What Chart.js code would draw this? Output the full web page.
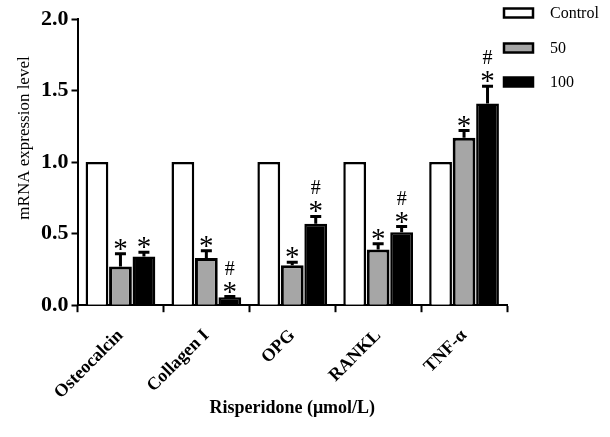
<!DOCTYPE html>
<html>
<head>
<meta charset="utf-8">
<script src="https://cdn.jsdelivr.net/npm/chart.js@4.4.1/dist/chart.umd.min.js"></script>
<style>
  html, body { margin: 0; padding: 0; background: #fff; }
  #wrap { width: 610px; height: 437px; }
</style>
</head>
<body>
<div id="wrap"><canvas id="mrna-chart"></canvas></div>
<script>
const genes = ['Osteocalcin', 'Collagen I', 'OPG', 'RANKL', 'TNF-\u03b1'];

const controlVals = [1.0, 1.0, 1.0, 1.0, 1.0];
const dose50Vals = [0.27, 0.33, 0.28, 0.39, 1.17];
const dose100Vals = [0.34, 0.055, 0.57, 0.51, 1.41];

const dose50Err = [0.09, 0.05, 0.02, 0.04, 0.05];
const dose100Err = [0.03, 0.005, 0.05, 0.04, 0.12];

const dose50Marks = ['*', '*', '*', '*', '*'];
const dose100Marks = ['*', '#*', '#*', '#*', '#*'];

const yTicks = [0, 0.5, 1.0, 1.5, 2.0];

const serif = 'Liberation Serif';

// error bars (upward only) + significance marks
const errorBarPlugin = {
  id: 'errorBars',
  afterDatasetsDraw(chart) {
    const ctx = chart.ctx;
    const yScale = chart.scales.y;
    chart.data.datasets.forEach((ds, di) => {
      if (!ds.err) return;
      const meta = chart.getDatasetMeta(di);
      meta.data.forEach((bar, i) => {
        const top = yScale.getPixelForValue(ds.data[i] + ds.err[i]);
        ctx.save();
        ctx.strokeStyle = '#000';
        ctx.lineWidth = 3;
        ctx.beginPath();
        ctx.moveTo(bar.x, bar.y);
        ctx.lineTo(bar.x, top);
        ctx.moveTo(bar.x - 5.5, top);
        ctx.lineTo(bar.x + 5.5, top);
        ctx.stroke();
        const marks = ds.marks ? ds.marks[i] : '';
        ctx.fillStyle = '#000';
        ctx.textAlign = 'center';
        ctx.textBaseline = 'alphabetic';
        let y = top - 10; // centre of next mark
        for (let k = marks.length - 1; k >= 0; k--) {
          if (marks[k] === '*') {
            ctx.font = '29px "' + serif + '"';
            ctx.fillText('*', bar.x, y + 14);
            y -= 19;
          } else {
            ctx.font = '20px "' + serif + '"';
            ctx.fillText('#', bar.x, y + 7);
            y -= 19;
          }
        }
        ctx.restore();
      });
    });
  }
};

// legend at top right + rotated y title
const legendPlugin = {
  id: 'sideLegend',
  afterDraw(chart) {
    const ctx = chart.ctx;
    const rows = [13, 48, 82];
    ctx.save();
    chart.data.datasets.forEach((ds, i) => {
      const y = rows[i];
      ctx.fillStyle = ds.backgroundColor;
      ctx.fillRect(504, y - 4.5, 29, 9);
      ctx.strokeStyle = '#000';
      ctx.lineWidth = 2.5;
      ctx.strokeRect(504, y - 4.5, 29, 9);
      ctx.fillStyle = '#000';
      ctx.font = '16px "' + serif + '"';
      ctx.textAlign = 'left';
      ctx.textBaseline = 'middle';
      ctx.fillText(ds.label, 550, y + 1);
    });
    ctx.translate(25, 138);
    ctx.rotate(-Math.PI / 2);
    ctx.font = '17px "' + serif + '"';
    ctx.textAlign = 'center';
    ctx.textBaseline = 'middle';
    ctx.fillText('mRNA expression level', 0, 0);
    ctx.restore();
  }
};

new Chart('mrna-chart', {
  type: 'bar',
  data: {
    labels: genes,
    datasets: [{
      label: 'Control',
      data: controlVals,
      backgroundColor: '#ffffff',
      borderColor: '#000000',
      borderWidth: 2.5,
    }, {
      label: '50',
      data: dose50Vals,
      err: dose50Err,
      marks: dose50Marks,
      backgroundColor: '#a6a6a6',
      borderColor: '#000000',
      borderWidth: 3,
    }, {
      label: '100',
      data: dose100Vals,
      err: dose100Err,
      marks: dose100Marks,
      backgroundColor: '#000000',
      borderColor: '#000000',
      borderWidth: 2.5,
    }],
  },
  options: {
    responsive: true,
    maintainAspectRatio: false,
    animation: false,
    categoryPercentage: 0.82,
    barPercentage: 0.97,
    layout: {
      padding: { left: 38, right: 103, top: 19, bottom: 18 },
    },
    scales: {
      x: {
        grid: { display: true, drawOnChartArea: false, drawTicks: true, tickLength: 7, tickWidth: 2, tickColor: '#000' },
        border: { color: '#000', width: 2 },
        ticks: {
          color: '#000',
          minRotation: 45,
          maxRotation: 45,
          padding: 13,
          font: { family: serif, size: 18, weight: 'bold' },
        },
        title: {
          display: true,
          text: 'Risperidone (\u03bcmol/L)',
          color: '#000',
          padding: { top: -19, bottom: 0 },
          font: { family: serif, size: 18, weight: 'bold' },
        },
      },
      y: {
        min: 0,
        max: 2,
        afterBuildTicks(axis) {
          axis.ticks = yTicks.map(v => ({ value: v }));
        },
        grid: { display: true, drawOnChartArea: false, drawTicks: true, tickLength: 6, tickWidth: 2, tickColor: '#000' },
        border: { color: '#000', width: 2 },
        ticks: {
          color: '#000',
          padding: 3,
          callback: v => v.toFixed(1),
          font: { family: serif, size: 22, weight: 'bold' },
        },
      },
    },
    plugins: {
      legend: { display: false },
      tooltip: { enabled: false },
    },
  },
  plugins: [errorBarPlugin, legendPlugin],
});
</script>
</body>
</html>
